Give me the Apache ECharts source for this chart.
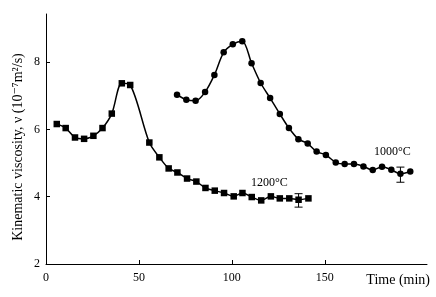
<!DOCTYPE html>
<html>
<head>
<meta charset="utf-8">
<style>
  html, body { margin: 0; padding: 0; background: #fff; }
  #viscosity-chart { width: 436px; height: 297px; }
</style>
<script src="https://cdn.jsdelivr.net/npm/echarts@6/dist/echarts.min.js"></script>
</head>
<body>
<div id="viscosity-chart"></div>
<script>
// time (min) and kinematic viscosity (10^-7 m^2/s)
const time1200 = [5.8, 10.6, 15.6, 20.5, 25.5, 30.4, 35.4, 40.8, 45.3, 55.6, 61.0, 66.0, 70.7, 75.9,
  80.9, 85.8, 90.8, 95.8, 101.0, 105.7, 110.7, 115.8, 121.0, 125.8, 130.9, 135.9, 141.2];
const visc1200 = [6.16, 6.04, 5.76, 5.72, 5.81, 6.04, 6.47, 7.37, 7.32, 5.61, 5.17, 4.84, 4.72, 4.54,
  4.45, 4.26, 4.18, 4.11, 4.01, 4.11, 3.99, 3.89, 4.01, 3.95, 3.95, 3.91, 3.95];

const time1000 = [70.5, 75.5, 80.5, 85.6, 90.6, 95.6, 100.5, 105.6, 110.6, 115.5, 120.6, 125.8, 130.7,
  135.8, 140.8, 145.6, 150.6, 155.9, 160.7, 165.7, 170.8, 175.8, 180.8, 185.8, 190.7, 196.0];
const visc1000 = [7.03, 6.88, 6.85, 7.11, 7.62, 8.29, 8.53, 8.62, 7.97, 7.38, 6.93, 6.46, 6.04,
  5.71, 5.58, 5.34, 5.24, 5.02, 4.97, 4.97, 4.90, 4.79, 4.89, 4.80, 4.68, 4.75];

// error bars: [time, low, high]
const errorBars = [
  [135.9, 3.69, 4.09],
  [190.7, 4.43, 4.88]
];

const xTicks = [0, 50, 100, 150];
const yTicks = [2, 4, 6, 8];

const serif = '"Liberation Serif", "DejaVu Serif", serif';

document.addEventListener('DOMContentLoaded', () => {
  const chart = echarts.init(document.getElementById('viscosity-chart'));

  const pairs = (xs, ys) => xs.map((x, i) => [x, ys[i]]);

  chart.setOption({
    animation: false,
    grid: { left: 46, right: 9, top: 14, bottom: 33 },
    xAxis: {
      type: 'value',
      min: 0,
      max: 205,
      splitLine: { show: false },
      axisLine: { lineStyle: { color: '#000', width: 1 } },
      axisTick: { inside: true, length: 4, customValues: xTicks, lineStyle: { color: '#000' } },
      axisLabel: { customValues: xTicks, color: '#000', fontFamily: serif, fontSize: 12, margin: 8 }
    },
    yAxis: {
      type: 'value',
      min: 2,
      max: 9.43,
      splitLine: { show: false },
      axisLine: { show: true, lineStyle: { color: '#000', width: 1 } },
      axisTick: { show: true, inside: true, length: 4, customValues: yTicks, lineStyle: { color: '#000' } },
      axisLabel: { customValues: yTicks, color: '#000', fontFamily: serif, fontSize: 12, margin: 6 }
    },
    graphic: [
      {
        type: 'text', x: 18, y: 147, rotation: Math.PI / 2,
        style: {
          text: 'Kinematic viscosity, ν (10⁻⁷m²/s)', fill: '#000', font: '14px ' + serif,
          align: 'center', verticalAlign: 'middle'
        }
      },
      {
        type: 'text', right: 6, top: 273,
        style: { text: 'Time (min)', fill: '#000', font: '14px ' + serif }
      },
      {
        type: 'text', left: 251, top: 177,
        style: { text: '1200°C', fill: '#000', font: '12px ' + serif }
      },
      {
        type: 'text', left: 374, top: 146,
        style: { text: '1000°C', fill: '#000', font: '12px ' + serif }
      }
    ],
    series: [
      {
        name: '1200°C',
        type: 'line',
        smooth: 0.3,
        symbol: 'rect',
        symbolSize: 6.5,
        lineStyle: { color: '#000', width: 1.5 },
        itemStyle: { color: '#000' },
        data: pairs(time1200, visc1200)
      },
      {
        name: '1000°C',
        type: 'line',
        smooth: 0.3,
        symbol: 'circle',
        symbolSize: 6.5,
        lineStyle: { color: '#000', width: 1.5 },
        itemStyle: { color: '#000' },
        data: pairs(time1000, visc1000)
      },
      {
        type: 'custom',
        data: errorBars,
        renderItem: (params, api) => {
          const top = api.coord([api.value(0), api.value(2)]);
          const bottom = api.coord([api.value(0), api.value(1)]);
          const half = 4;
          const style = { stroke: '#000', lineWidth: 1 };
          return {
            type: 'group',
            children: [
              { type: 'line', shape: { x1: top[0], y1: top[1], x2: bottom[0], y2: bottom[1] }, style },
              { type: 'line', shape: { x1: top[0] - half, y1: top[1], x2: top[0] + half, y2: top[1] }, style },
              { type: 'line', shape: { x1: bottom[0] - half, y1: bottom[1], x2: bottom[0] + half, y2: bottom[1] }, style }
            ]
          };
        },
        z: 3
      }
    ]
  });

  window.addEventListener('resize', () => chart.resize());
});
</script>
</body>
</html>
